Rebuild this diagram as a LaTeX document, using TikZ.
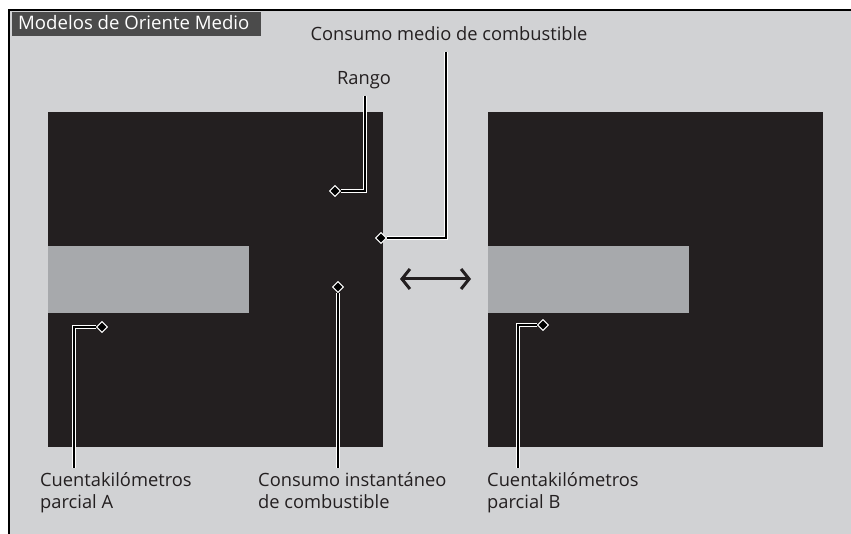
\documentclass[tikz,border=0pt]{standalone}
\usepackage{fontspec}
\setmainfont{Open Sans}
\usepackage{xcolor}
\usetikzlibrary{shapes.geometric, arrows.meta, positioning}

\definecolor{bggray}{HTML}{D1D2D4}
\definecolor{panelblack}{HTML}{231F20}
\definecolor{bargray}{HTML}{A7A9AC}
\definecolor{titlegray}{HTML}{4B4B4B}

\begin{document}
\begin{tikzpicture}[
        x=1pt, y=-1pt,
        panel/.style = {rectangle, fill=panelblack, minimum width=335pt, minimum height=335pt, inner sep=0pt, anchor=north west},
        bar/.style = {rectangle, fill=bargray, minimum width=201pt, minimum height=67pt, inner sep=0pt, anchor=north west},
        tag/.style = {align=left, inner sep=0pt, font=\fontsize{18.3}{22}\selectfont, text=panelblack},
        pin/.style = {diamond, draw=white, fill=black, line width=0.9pt, minimum size=11pt, inner sep=0pt},
        leader/.style = {line width=1.8pt, black, preaction={draw=white, line width=4.6pt}},
        swap/.style = {{Straight Barb[length=8pt, width=20pt]}-{Straight Barb[length=8pt, width=20pt]}, line width=3pt, panelblack}
    ]
        \useasboundingbox (0,0) rectangle (851,534);
        % Background and frame
        \fill[white] (0,0) rectangle (851,534);
        \fill[bggray] (9,10) rectangle (851,534);
        \draw[black, line width=1.2pt] (9,534) -- (9,10) -- (851,10);
        \fill[titlegray] (12,12) rectangle (261,36);
        \node[text=white, anchor=base west, inner sep=0pt, font=\fontsize{18.6}{20}\selectfont] (title) at (18,30) {Modelos de Oriente Medio};

        % Displays
        \node[panel] (left) at (48,112) {};
        \node[bar] (leftbar) at (48,246) {};
        \node[panel] (right) at (488,112) {};
        \node[bar] (rightbar) at (488,246) {};

        % Switch arrow
        \coordinate (swapL) at (400,279);
        \coordinate (swapR) at (471,279);
        \draw[swap] (swapL) -- (swapR);

        % Labels
        \node[tag, anchor=base] (medio) at (449,41) {Consumo medio de combustible};
        \node[tag, anchor=base] (rango) at (364,85) {Rango};
        \node[tag, anchor=north west] (inst) at (258,472) {Consumo instant\'aneo\\de combustible};
        \node[tag, anchor=north west] (tripA) at (40,472) {Cuentakil\'ometros\\parcial A};
        \node[tag, anchor=north west] (tripB) at (487,472) {Cuentakil\'ometros\\parcial B};

        % Pins
        \node[pin] (pRango) at (335,191) {};
        \node[pin] (pMedio) at (381,238) {};
        \node[pin] (pInst) at (338,287) {};
        \node[pin] (pA) at (102,327) {};
        \node[pin] (pB) at (543,325) {};

        % Leaders
        \draw[leader] (365,96) |- (pRango);
        \draw[leader] (446,52) |- (pMedio);
        \draw[leader] (pInst) -- (338,468);
        \draw[leader] (pA) -| (74,468);
        \draw[leader] (pB) -| (518,468);

        % Pins on top
        \foreach \p in {pRango, pMedio, pInst, pA, pB}
            \node[pin] at (\p) {};
    \end{tikzpicture}
\end{document}
